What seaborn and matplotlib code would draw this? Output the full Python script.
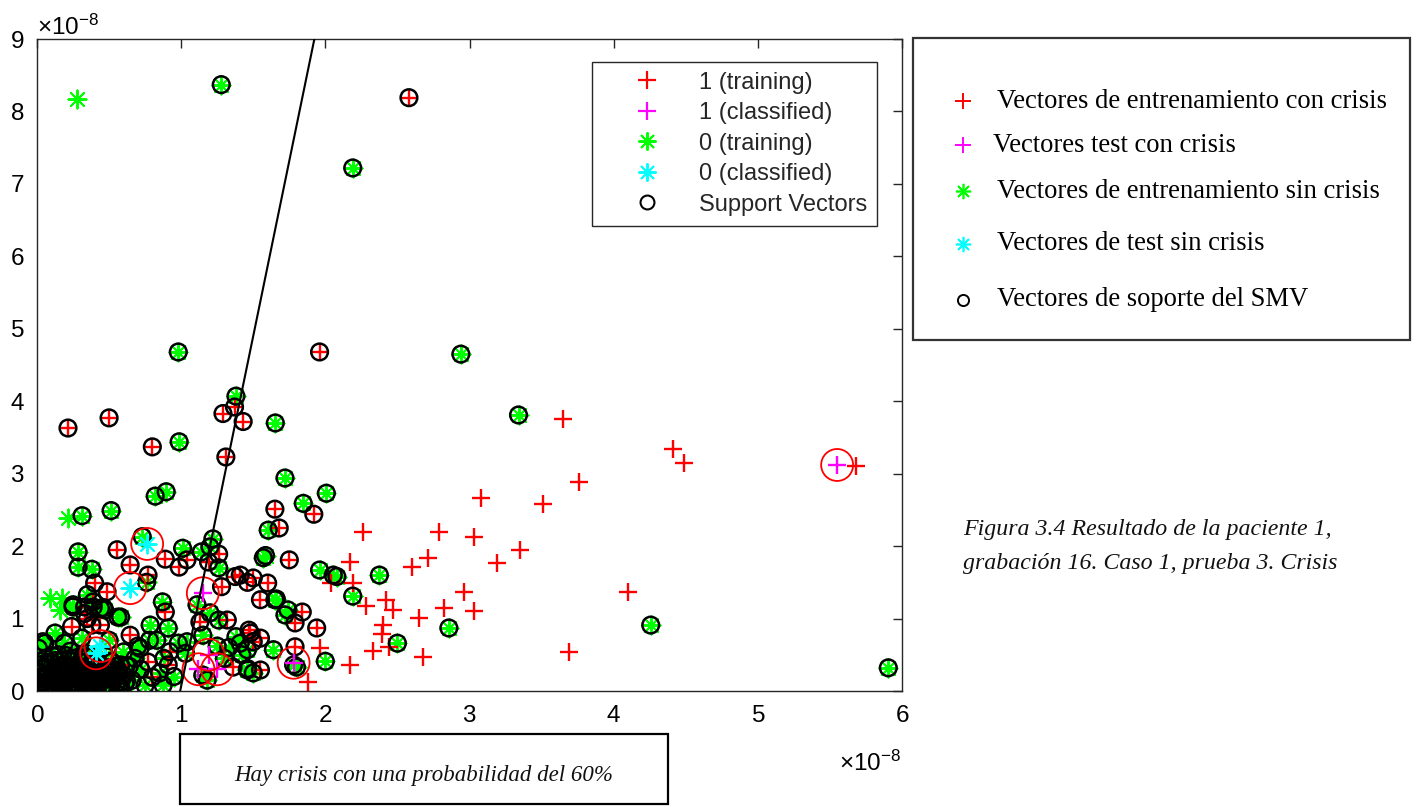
import numpy as np
import matplotlib
matplotlib.use("Agg")
import matplotlib.pyplot as plt
from matplotlib.lines import Line2D
from matplotlib.patches import Rectangle
from matplotlib.ticker import ScalarFormatter, MultipleLocator
import seaborn as sns

SCALE = 1e-8  # feature values are given in units of 1e-8

# ---- class 1 (crisis) training vectors that are not support vectors ----
crisis_train_x = [2.26, 2.79, 3.08, 3.03, 3.35, 2.17, 2.71, 2.60, 3.19, 2.19, 2.04, 2.96,
                  2.28, 2.42, 2.47, 2.82, 3.03, 2.65, 2.40, 2.39, 2.33, 2.44, 2.68, 2.17,
                  1.96, 1.88, 3.65, 4.41, 4.49, 5.68, 3.76, 3.51, 4.10, 3.69]
crisis_train_y = [2.19, 2.19, 2.66, 2.13, 1.95, 1.78, 1.84, 1.71, 1.77, 1.49, 1.49, 1.37,
                  1.17, 1.26, 1.12, 1.15, 1.10, 1.01, 0.91, 0.79, 0.55, 0.61, 0.47, 0.36,
                  0.59, 0.12, 3.75, 3.34, 3.15, 3.11, 2.89, 2.58, 1.37, 0.54]

# ---- class 1 (crisis) training vectors that are support vectors ----
crisis_sv_x = [2.58, 1.96, 0.215, 0.50, 0.80, 1.29, 1.37, 1.43, 1.31, 1.65, 1.92, 1.68,
               1.75, 1.84, 1.94, 1.79, 1.79, 1.55, 1.60, 1.50, 1.46, 1.48, 1.55, 1.55,
               0.556, 0.646, 0.89, 0.986, 1.04, 1.19, 1.26, 1.375, 1.28, 1.41, 0.40, 0.486,
               0.33, 0.24, 0.35, 0.38, 0.33, 0.39, 0.44, 0.646, 0.89, 0.77, 0.92, 0.77,
               0.91, 0.80, 1.13, 1.32, 1.47, 1.50, 1.36, 0.14, 0.33, 0.47, 0.26, 0.58, 0.10]
crisis_sv_y = [8.19, 4.68, 3.63, 3.77, 3.37, 3.83, 3.92, 3.72, 3.23, 2.51, 2.44, 2.25,
               1.81, 1.09, 0.87, 0.94, 0.61, 1.26, 1.49, 1.56, 1.50, 0.80, 0.73, 0.29,
               1.95, 1.74, 1.82, 1.71, 1.81, 1.78, 1.89, 1.58, 1.44, 1.60, 1.49, 1.37,
               1.16, 0.89, 1.00, 0.91, 1.07, 1.23, 0.91, 0.77, 1.09, 1.60, 0.54, 0.40,
               0.36, 0.19, 0.95, 0.98, 0.84, 0.68, 0.33, 0.22, 0.18, 0.08, 0.35, 0.36, 0.04]

# ---- class 0 (no crisis) training vectors that are not support vectors ----
calm_train_x = [0.278, 0.215, 0.09, 0.17, 0.16]
calm_train_y = [8.17, 2.39, 1.28, 1.28, 1.12]

# ---- class 0 (no crisis) training vectors that are support vectors ----
calm_sv_x = [1.278, 2.19, 0.98, 2.94, 3.34, 1.38, 1.653, 0.986, 1.72, 0.896, 0.82, 1.847,
             2.007, 0.514, 0.3125, 4.257, 5.905, 2.857, 2.50, 2.375, 2.19, 2.00, 1.604, 1.57,
             1.585, 1.96, 2.055, 2.08, 1.74, 1.72, 1.64, 1.65, 1.46, 1.46, 1.78, 1.80,
             0.285, 0.285, 0.38, 0.73, 1.01, 1.14, 1.22, 1.20, 1.26, 1.66, 0.47, 0.56,
             0.785, 0.87, 0.76, 0.91, 0.83, 0.98, 0.875, 0.715, 0.60, 0.39, 1.11, 1.20,
             1.26, 1.15, 1.41, 1.46, 1.50, 1.04, 1.03, 1.18, 1.15, 1.38, 1.33, 1.25,
             1.42, 1.30, 0.04, 0.125, 0.19, 0.31, 0.25, 0.44, 0.58, 0.01, 0.055, 0.35,
             0.25, 0.46, 0.68, 0.72, 0.62, 0.85, 0.95, 0.66, 0.75, 0.55, 0.58, 0.88,
             0.78, 0.70, 0.50,
             0.02, 0.05, 0.08, 0.10, 0.12, 0.15, 0.17, 0.20, 0.22, 0.24, 0.26, 0.28,
             0.30, 0.32, 0.34, 0.36, 0.38, 0.40, 0.42, 0.44, 0.46, 0.48, 0.50, 0.52,
             0.54, 0.56, 0.58, 0.60, 0.62, 0.64, 0.04, 0.07, 0.13, 0.18, 0.25, 0.31,
             0.09, 0.19, 0.27, 0.35, 0.43, 0.03, 0.11, 0.21, 0.29, 0.37, 0.45, 0.53,
             0.15, 0.06, 0.39, 0.47, 0.23, 0.33,
             0.01, 0.06, 0.11, 0.16, 0.21, 0.27, 0.33, 0.39, 0.45, 0.51, 0.57,
             0.03, 0.07, 0.14, 0.18, 0.24, 0.31, 0.36, 0.41, 0.48, 0.55, 0.61,
             0.01, 0.06, 0.12, 0.19, 0.23, 0.29, 0.35, 0.42, 0.47, 0.52, 0.59,
             0.02, 0.08, 0.13, 0.17, 0.23, 0.30, 0.37, 0.43, 0.50, 0.57,
             0.05, 0.10, 0.16, 0.22, 0.29, 0.35, 0.41, 0.49, 0.55,
             0.02, 0.09, 0.17, 0.24, 0.34, 0.42, 0.51,
             0.11, 0.20, 0.29, 0.36]
calm_sv_y = [8.37, 7.22, 4.68, 4.65, 3.81, 4.07, 3.70, 3.44, 2.94, 2.75, 2.69, 2.59,
             2.73, 2.49, 2.42, 0.91, 0.32, 0.87, 0.66, 1.60, 1.31, 0.41, 2.22, 1.84,
             1.87, 1.67, 1.60, 1.58, 1.12, 1.05, 0.57, 1.26, 0.57, 0.29, 0.36, 0.33,
             1.92, 1.71, 1.68, 2.13, 1.97, 1.92, 2.10, 1.99, 1.70, 1.27, 1.12, 1.02,
             0.91, 1.23, 1.50, 0.87, 0.70, 0.66, 0.08, 0.59, 0.54, 1.16, 1.19, 1.08,
             0.98, 0.77, 0.66, 0.31, 0.25, 0.68, 0.52, 0.15, 0.22, 0.75, 0.60, 0.62,
             0.50, 0.45, 0.68, 0.80, 0.66, 0.73, 1.16, 1.14, 1.02, 0.59, 0.66, 1.33,
             1.19, 1.15, 0.45, 0.30, 0.35, 0.25, 0.20, 0.15, 0.08, 0.25, 0.12, 0.45,
             0.70, 0.62, 0.70,
             0.05, 0.12, 0.02, 0.20, 0.08, 0.15, 0.03, 0.25, 0.10, 0.18, 0.05, 0.30,
             0.14, 0.22, 0.07, 0.35, 0.16, 0.26, 0.04, 0.12, 0.32, 0.20, 0.09, 0.40,
             0.17, 0.28, 0.06, 0.22, 0.14, 0.34, 0.30, 0.38, 0.42, 0.36, 0.45, 0.40,
             0.10, 0.07, 0.20, 0.27, 0.38, 0.20, 0.28, 0.32, 0.02, 0.10, 0.24, 0.30,
             0.50, 0.45, 0.48, 0.50, 0.55, 0.52,
             0.03, 0.02, 0.04, 0.02, 0.03, 0.04, 0.02, 0.03, 0.05, 0.02, 0.04,
             0.10, 0.09, 0.11, 0.10, 0.09, 0.11, 0.10, 0.12, 0.09, 0.11, 0.10,
             0.17, 0.18, 0.16, 0.17, 0.19, 0.16, 0.18, 0.17, 0.16, 0.18, 0.17,
             0.25, 0.24, 0.26, 0.25, 0.24, 0.26, 0.25, 0.24, 0.26, 0.25,
             0.33, 0.32, 0.34, 0.33, 0.32, 0.34, 0.33, 0.32, 0.34,
             0.41, 0.40, 0.42, 0.41, 0.40, 0.42, 0.41,
             0.48, 0.49, 0.47, 0.48]

# ---- classified test vectors ----
crisis_test_x = [5.55, 1.15, 1.19, 1.12, 1.25, 1.78]
crisis_test_y = [3.12, 1.35, 0.50, 0.30, 0.30, 0.39]
calm_test_x = [0.764, 0.646, 0.44, 0.41]
calm_test_y = [2.03, 1.42, 0.62, 0.52]

# ---- SVM separating line ----
boundary_x = [0.993, 1.924]
boundary_y = [0.0, 9.0]

legend_labels = ["1 (training)", "1 (classified)", "0 (training)", "0 (classified)", "Support Vectors"]
side_labels = ["Vectores de entrenamiento con crisis", "Vectores test con crisis",
               "Vectores de entrenamiento sin crisis", "Vectores de test sin crisis",
               "Vectores de soporte del SMV"]
caption_lines = ["Figura 3.4 Resultado de la paciente 1,", "grabación 16. Caso 1, prueba 3. Crisis"]
result_text = "Hay crisis con una probabilidad del 60%"


def s(v):
    return np.asarray(v, dtype=float) * SCALE


sns.set_style("white")
plt.rcParams["font.family"] = ["Liberation Sans", "DejaVu Sans"]
plt.rcParams["mathtext.fontset"] = "custom"
plt.rcParams["mathtext.rm"] = "Liberation Sans"
plt.rcParams["mathtext.it"] = "Liberation Sans:italic"
plt.rcParams["mathtext.bf"] = "Liberation Sans:bold"

RED, MAGENTA, GREEN, CYAN = "#ff0000", "#ff00ff", "#00ff00", "#00ffff"
AXC = "#262626"
ASTER = (8, 2, 0)
MS = 13.0     # marker size (points) for + and asterisk
SVS = 12.0    # support-vector ring size
TICK_FS = 17.5

fig = plt.figure(figsize=(14.18, 8.07), dpi=100)
ax = fig.add_axes([37 / 1418, 1 - 691 / 807, 865 / 1418, 652 / 807])

# training vectors
sns.scatterplot(x=s(calm_train_x + calm_sv_x), y=s(calm_train_y + calm_sv_y), marker=ASTER,
                color=GREEN, s=MS ** 2, linewidth=1.4, ax=ax, zorder=2)
sns.scatterplot(x=s(crisis_train_x + crisis_sv_x), y=s(crisis_train_y + crisis_sv_y), marker="+",
                color=RED, s=MS ** 2, linewidth=1.7, ax=ax, zorder=2)
# support vectors
sns.scatterplot(x=s(crisis_sv_x + calm_sv_x), y=s(crisis_sv_y + calm_sv_y), marker="o",
                color="black", facecolor="none", edgecolor="black", s=SVS ** 2,
                linewidth=1.8, ax=ax, zorder=3)
# classified test vectors
sns.scatterplot(x=s(crisis_test_x), y=s(crisis_test_y), marker="+", color=MAGENTA,
                s=MS ** 2, linewidth=1.7, ax=ax, zorder=4)
sns.scatterplot(x=s(calm_test_x), y=s(calm_test_y), marker=ASTER, color=CYAN,
                s=MS ** 2, linewidth=1.4, ax=ax, zorder=4)
# rings around classified vectors
sns.scatterplot(x=s(crisis_test_x + calm_test_x), y=s(crisis_test_y + calm_test_y), marker="o",
                color=RED, facecolor="none", edgecolor=RED, s=23 ** 2,
                linewidth=1.3, ax=ax, zorder=5)
# separating line
sns.lineplot(x=s(boundary_x), y=s(boundary_y), color="black", linewidth=1.5, ax=ax,
             zorder=6, sort=False, estimator=None)

ax.set_xlim(0, 6 * SCALE)
ax.set_ylim(0, 9 * SCALE)
ax.xaxis.set_major_locator(MultipleLocator(1 * SCALE))
ax.yaxis.set_major_locator(MultipleLocator(1 * SCALE))
for axis in (ax.xaxis, ax.yaxis):
    fmt = ScalarFormatter(useMathText=True)
    fmt.set_powerlimits((-3, 3))
    axis.set_major_formatter(fmt)
ax.yaxis.get_offset_text().set_fontsize(TICK_FS)
ax.xaxis.get_offset_text().set_visible(False)
ax.tick_params(direction="in", top=True, right=True, length=6.5, width=1.0, colors=AXC,
               labelsize=TICK_FS)
ax.tick_params(axis="x", pad=10)
ax.tick_params(axis="y", pad=9)
ax.tick_params(axis="both", labelcolor="black")
for sp in ax.spines.values():
    sp.set_color(AXC)
    sp.set_linewidth(1.0)
ax.set_xlabel("")
ax.set_ylabel("")

# x-axis exponent label, set below the tick labels
fig.text(901 / 1418, 1 - 763 / 807, r"$\times10^{-8}$", fontsize=TICK_FS, ha="right",
         va="center", color="black")

handles = [
    Line2D([], [], ls="none", marker="+", color=RED, markersize=MS, mew=1.6),
    Line2D([], [], ls="none", marker="+", color=MAGENTA, markersize=MS, mew=1.6),
    Line2D([], [], ls="none", marker=ASTER, color=GREEN, markersize=MS, mew=1.4),
    Line2D([], [], ls="none", marker=ASTER, color=CYAN, markersize=MS, mew=1.4),
    Line2D([], [], ls="none", marker="o", mfc="none", mec="black", markersize=10, mew=1.5),
]
leg = ax.legend(handles, legend_labels, loc="upper right", bbox_to_anchor=(0.971, 0.965),
                borderaxespad=0, fontsize=17, handlelength=3.8, handletextpad=0.3,
                labelspacing=0.36, borderpad=0.42, fancybox=False, framealpha=1,
                edgecolor=AXC)
leg.get_frame().set_linewidth(1.0)

# side panel with the Spanish key
fig.add_artist(Rectangle((913 / 1418, 1 - 340 / 807), 497 / 1418, 302 / 807,
                         transform=fig.transFigure, fill=False, ec="#333333", lw=1.6))
side_marks = [("+", RED, 1.4), ("+", MAGENTA, 1.4), (ASTER, GREEN, 1.2), (ASTER, CYAN, 1.2),
              ("o", "black", 1.4)]
side_y = [101, 145, 191, 244, 300]
side_tx = [997, 993, 997, 997, 997]
for (mk, col, mw), py, tx, lab in zip(side_marks, side_y, side_tx, side_labels):
    fy = 1 - py / 807
    if mk == "o":
        fig.add_artist(Line2D([963 / 1418], [fy], transform=fig.transFigure, ls="none",
                              marker="o", mfc="none", mec=col, markersize=8, mew=mw))
    else:
        fig.add_artist(Line2D([963 / 1418], [fy], transform=fig.transFigure, ls="none",
                              marker=mk, color=col, markersize=11, mew=mw))
    fig.text(tx / 1418, fy, lab, family="Liberation Serif", fontsize=19.2, va="center",
             ha="left", color="black")

# figure caption
for py, line in zip([530, 563], caption_lines):
    fig.text(963 / 1418, 1 - py / 807, line, family="Liberation Serif", style="italic",
             fontsize=17.2, va="center", ha="left", color="#111111")

# result box under the plot
fig.add_artist(Rectangle((180 / 1418, 1 - 804 / 807), 488 / 1418, 70 / 807,
                         transform=fig.transFigure, fill=False, ec="black", lw=1.6))
fig.text(424 / 1418, 1 - 775 / 807, result_text, family="Liberation Serif", style="italic",
         fontsize=16.5, va="center", ha="center", color="#111111")

fig.savefig("out.png", dpi=100)
